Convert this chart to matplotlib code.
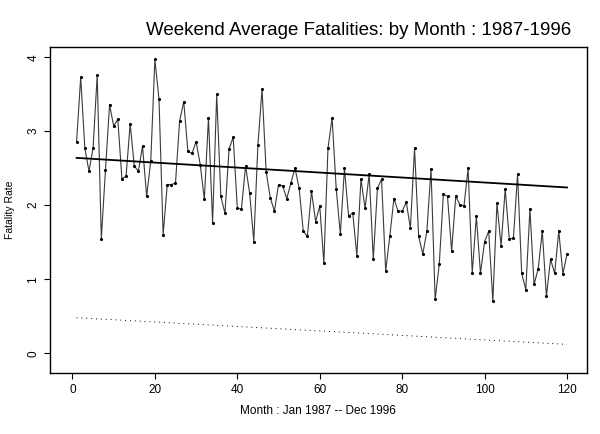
import matplotlib
matplotlib.use("Agg")
import matplotlib.pyplot as plt
import numpy as np

plt.rcParams['font.family'] = ['Liberation Sans', 'DejaVu Sans']

months = list(range(1, 121))
fatality_rate = [
    2.86, 3.73, 2.77, 2.46, 2.77, 3.76, 1.55, 2.47, 3.36, 3.07,
    3.16, 2.36, 2.39, 3.10, 2.53, 2.46, 2.80, 2.12, 2.60, 3.97,
    3.43, 1.60, 2.28, 2.28, 2.30, 3.14, 3.40, 2.73, 2.70, 2.86,
    2.55, 2.08, 3.18, 1.76, 3.50, 2.12, 1.89, 2.76, 2.92, 1.96,
    1.95, 2.53, 2.16, 1.51, 2.82, 3.57, 2.45, 2.10, 1.92, 2.28,
    2.26, 2.09, 2.30, 2.50, 2.23, 1.65, 1.58, 2.19, 1.78, 1.99,
    1.22, 2.77, 3.18, 2.22, 1.61, 2.50, 1.85, 1.90, 1.32, 2.35,
    1.96, 2.42, 1.27, 2.23, 2.35, 1.11, 1.58, 2.09, 1.92, 1.92,
    2.04, 1.69, 2.77, 1.58, 1.34, 1.65, 2.49, 0.73, 1.20, 2.15,
    2.12, 1.38, 2.12, 2.01, 1.99, 2.50, 1.08, 1.85, 1.08, 1.51,
    1.65, 0.70, 2.03, 1.45, 2.22, 1.54, 1.56, 2.42, 1.08, 0.86,
    1.95, 0.93, 1.14, 1.65, 0.77, 1.27, 1.08, 1.65, 1.07, 1.34,
]
trend_ends = [2.64, 2.24]      # solid line at month 1 and month 120
lower_ends = [0.48, 0.12]      # dotted line at month 1 and month 120
x_ticks = [0, 20, 40, 60, 80, 100, 120]
y_ticks = [0, 1, 2, 3, 4]

fig = plt.figure(figsize=(6.0, 4.34), dpi=100)
ax = fig.add_axes([0.083, 0.140, 0.895, 0.752])

ax.plot(months, fatality_rate, color='#3a3a3a', lw=0.8, marker='.', ms=2.5,
        mfc='black', mec='black')
ax.plot([months[0], months[-1]], trend_ends, color='black', lw=1.3)
ax.plot([months[0], months[-1]], lower_ends, color='black', lw=0.7,
        linestyle=(0, (1, 4)))

ax.set_xlim(-5.5, 124.8)
ax.set_ylim(-0.27, 4.14)
ax.set_xticks(x_ticks)
ax.set_yticks(y_ticks)
ax.set_yticklabels([str(v) for v in y_ticks], rotation=90, va='center')
ax.tick_params(axis='both', direction='out', length=4, width=0.8,
               labelsize=8.5, colors='black')
for s in ax.spines.values():
    s.set_linewidth(1.0)

ax.set_xlabel('Month : Jan 1987 -- Dec 1996', fontsize=8.5, labelpad=7)
ax.set_ylabel('Fatality Rate', fontsize=7.5, labelpad=9)

fig.text(0.597, 0.930, 'Weekend Average Fatalities: by Month : 1987-1996',
         ha='center', va='center', fontsize=13.5)

fig.savefig('out.png', dpi=100)
